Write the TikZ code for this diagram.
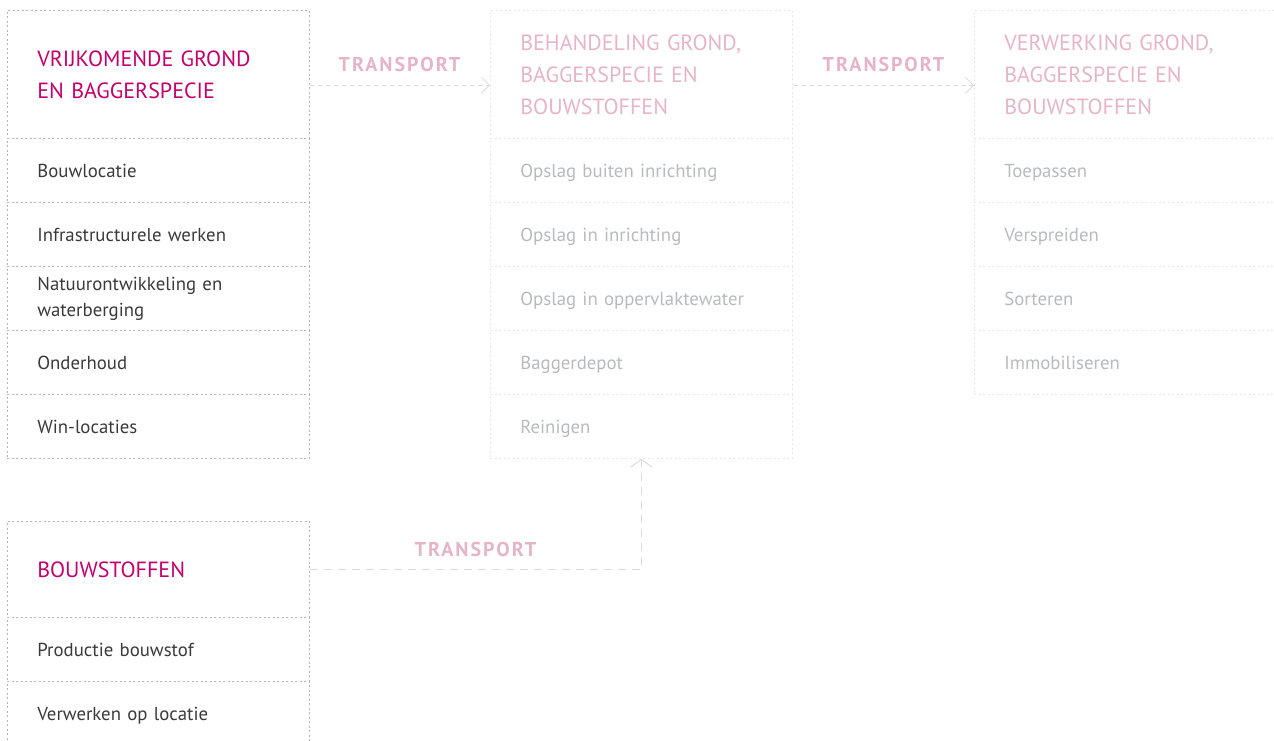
\documentclass[tikz,border=0pt]{standalone}
\usepackage{fontspec}
\setmainfont{PT Sans}
\usetikzlibrary{arrows.meta}
\definecolor{mag}{HTML}{C2006B}
\definecolor{pinkf}{HTML}{E6B4C7}
\definecolor{txtd}{HTML}{3A3A3A}
\definecolor{txtl}{HTML}{B8BABD}
\definecolor{bord}{HTML}{B4B4B4}
\definecolor{bordl}{HTML}{E6E8E8}
\definecolor{arrc}{HTML}{D9DDDD}
\tikzset{
  cellbase/.style={rectangle, anchor=north west, align=left, inner xsep=30pt, inner ysep=0pt, text width=242pt, dash pattern=on 2pt off 2.5pt, line width=0.7pt},
  darkcell/.style={cellbase, draw=bord},
  lightcell/.style={cellbase, draw=bordl},
  hdr/.style={minimum height=128pt, font=\fontsize{22}{32}\selectfont},
  hdrs/.style={minimum height=96pt, font=\fontsize{22}{32}\selectfont},
  itm/.style={minimum height=64pt, font=\fontsize{18.8}{26}\selectfont},
  one/.style={text height=17pt, text depth=2pt},
  lbl/.style={font=\fontsize{20}{22}\selectfont\bfseries\addfontfeature{LetterSpace=10}, text=pinkf, inner sep=0pt},
  arr/.style={draw=arrc, line width=0.8pt, dash pattern=on 5pt off 3pt, -{Straight Barb[length=8pt,width=16pt,line width=0.8pt]}},
  arrb/.style={draw=arrc, line width=1pt, dash pattern=on 8pt off 6pt, -{Straight Barb[length=8pt,width=22pt,line width=1pt]}}
}
\begin{document}
\begin{tikzpicture}[x=1pt,y=-1pt]
\useasboundingbox (0,0) rectangle (1274,740);
% column 1
\node[darkcell, hdr, text=mag] (h1) at (7,10) {VRIJKOMENDE GROND\\EN BAGGERSPECIE};
\node[darkcell, itm, one, text=txtd] (a1) at (7,138) {Bouwlocatie};
\node[darkcell, itm, one, text=txtd] (a2) at (7,202) {Infrastructurele werken};
\node[darkcell, itm, text=txtd] (a3) at (7,266) {Natuurontwikkeling en\\waterberging};
\node[darkcell, itm, one, text=txtd] (a4) at (7,330) {Onderhoud};
\node[darkcell, itm, one, text=txtd] (a5) at (7,394) {Win-locaties};
% column 2
\node[lightcell, hdr, text=pinkf] (h2) at (490,10) {BEHANDELING GROND,\\BAGGERSPECIE EN\\BOUWSTOFFEN};
\node[lightcell, itm, one, text=txtl] (b1) at (490,138) {Opslag buiten inrichting};
\node[lightcell, itm, one, text=txtl] (b2) at (490,202) {Opslag in inrichting};
\node[lightcell, itm, one, text=txtl] (b3) at (490,266) {Opslag in oppervlaktewater};
\node[lightcell, itm, one, text=txtl] (b4) at (490,330) {Baggerdepot};
\node[lightcell, itm, one, text=txtl] (b5) at (490,394) {Reinigen};
% column 3
\node[lightcell, hdr, text=pinkf] (h3) at (974,10) {VERWERKING GROND,\\BAGGERSPECIE EN\\BOUWSTOFFEN};
\node[lightcell, itm, one, text=txtl] (c1) at (974,138) {Toepassen};
\node[lightcell, itm, one, text=txtl] (c2) at (974,202) {Verspreiden};
\node[lightcell, itm, one, text=txtl] (c3) at (974,266) {Sorteren};
\node[lightcell, itm, one, text=txtl] (c4) at (974,330) {Immobiliseren};
% bottom box
\node[darkcell, hdrs, text=mag] (h4) at (7,521) {BOUWSTOFFEN};
\node[darkcell, itm, one, text=txtd] (d1) at (7,617) {Productie bouwstof};
\node[darkcell, itm, one, text=txtd] (d2) at (7,681) {Verwerken op locatie};
% connectors
\draw[arr] ([yshift=-11pt]h1.east) -- ([yshift=-11pt]h2.west);
\draw[arr] ([yshift=-11pt]h2.east) -- ([yshift=-11pt]h3.west);
\draw[arrb] (h4.east) -| (b5.south);
% labels
\node[lbl] (t1) at (399.5,64) {TRANSPORT};
\node[lbl] (t2) at (883.5,64) {TRANSPORT};
\node[lbl] (t3) at (475.5,549) {TRANSPORT};
\end{tikzpicture}
\end{document}
